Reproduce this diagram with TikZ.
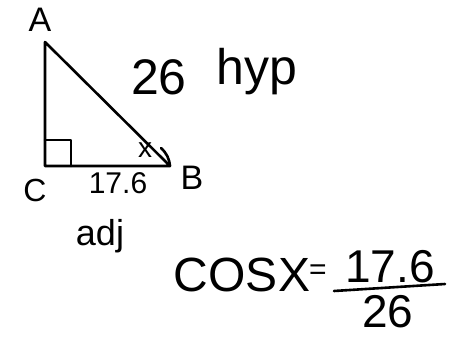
\documentclass[tikz,border=0pt]{standalone}
\usepackage{fontspec}
\setmainfont{Liberation Sans}
\begin{document}
\begin{tikzpicture}[x=1pt,y=-1pt,
  pen/.style={line width=2.6pt,line join=round,line cap=round},
  hand/.style={inner sep=0pt,anchor=center}]
\useasboundingbox (0,0) rectangle (458,341);
\coordinate (A) at (45,42);
\coordinate (C) at (45,166);
\coordinate (B) at (170,166);
\draw[pen] (A) -- (C) -- (B) -- cycle;
\coordinate (s1) at (45,140);
\coordinate (s2) at (71,140);
\coordinate (s3) at (71,166);
\draw[pen] (s1) -- (s2) -- (s3);
\coordinate (r1) at (161,148);
\draw[pen] (r1) to[bend left=20] (B);
\node[hand,font=\fontsize{34}{34}\selectfont] (lA) at (40,20) {A};
\node[hand,font=\fontsize{50}{50}\selectfont] (l26) at (159,77) {26};
\node[hand,font=\fontsize{50}{50}\selectfont] (lhyp) at (257,72) {hyp};
\node[hand,font=\fontsize{28}{28}\selectfont] (lx) at (145,150) {x};
\node[hand,font=\fontsize{32}{32}\selectfont] (lC) at (35,190) {C};
\node[hand,font=\fontsize{30}{30}\selectfont] (l176) at (118,183) {17.6};
\node[hand,font=\fontsize{34}{34}\selectfont] (lB) at (192,178) {B};
\node[hand,font=\fontsize{36}{36}\selectfont] (ladj) at (100,236) {adj};
\node[hand,font=\fontsize{48}{48}\selectfont] (lcos) at (242,275) {COSX};
\node[hand,font=\fontsize{30}{30}\selectfont] (leq) at (318,272) {=};
\node[hand,font=\fontsize{46}{46}\selectfont] (lnum) at (390,267) {17.6};
\node[hand,font=\fontsize{46}{46}\selectfont] (lden) at (388,312) {26};
\coordinate (f1) at (334,291);
\coordinate (f2) at (445,284);
\draw[pen] (f1) -- (f2);
\end{tikzpicture}
\end{document}
